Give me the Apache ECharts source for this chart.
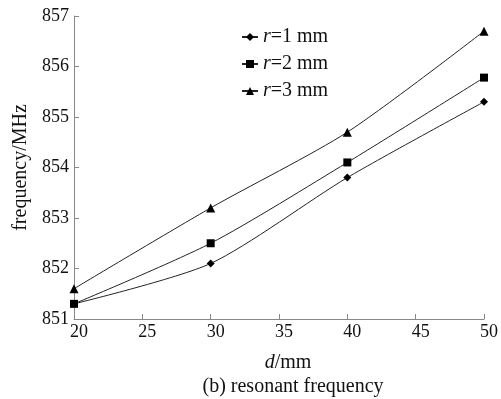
<!DOCTYPE html>
<html><head><meta charset="utf-8">
<script src="https://cdn.jsdelivr.net/npm/echarts@6/dist/echarts.min.js"></script>
<style>html,body{margin:0;padding:0;background:#fff}#c{width:501px;height:399px}</style>
</head><body><div id="c"></div>
<script>
var dValues = [20, 30, 40, 50];
var r1 = [851.3, 852.1, 853.8, 855.3];
var r2 = [851.3, 852.5, 854.1, 855.78];
var r3 = [851.6, 853.2, 854.7, 856.7];
var seriesNames = ['r=1 mm', 'r=2 mm', 'r=3 mm'];
var xTicks = [20, 25, 30, 35, 40, 45, 50];
var yTicks = [851, 852, 853, 854, 855, 856, 857];

var font = 'Liberation Serif';
function pairs(vals){ return dValues.map(function(d,i){return [d, vals[i]];}); }
var symbols = ['diamond','rect','triangle'];
var sizes = [8, 8, 9];
var datas = [r1, r2, r3];
var series = datas.map(function(v,i){
  return {
    name: seriesNames[i], type: 'line', smooth: 0.25,
    data: pairs(v), symbol: symbols[i], symbolSize: sizes[i],
    lineStyle: {color: '#222', width: 1},
    itemStyle: {color: '#000'}
  };
});
var chart = echarts.init(document.getElementById('c'));
chart.setOption({
  animation: false,
  grid: {left: 74, right: 15, top: 16, bottom: 80},
  legend: {
    orient: 'vertical', left: 236, top: 22, itemGap: 7,
    itemWidth: 16, itemHeight: 10,
    data: seriesNames,
    formatter: function(n){ return '{i|r}' + n.slice(1); },
    textStyle: {fontFamily: font, fontSize: 20, color: '#111',
      rich: {i: {fontStyle: 'italic', fontFamily: font, fontSize: 20, color: '#111'}}}
  },
  xAxis: {
    type: 'value', min: 20, max: 50, interval: 5,
    axisLine: {lineStyle: {color: '#888'}},
    axisTick: {inside: true, length: 5, lineStyle: {color: '#888'}},
    axisLabel: {fontFamily: font, fontSize: 18, color: '#111', margin: 4, padding: [0,0,0,10]},
    splitLine: {show: false},
    name: '{i|d}/mm', nameLocation: 'middle', nameGap: 34,
    nameTextStyle: {fontFamily: font, fontSize: 20, color: '#111', padding: [0,0,0,18],
      rich: {i: {fontStyle: 'italic', fontFamily: font, fontSize: 20, color: '#111'}}}
  },
  yAxis: {
    type: 'value', min: 851, max: 857, interval: 1,
    axisLine: {show: true, lineStyle: {color: '#888'}},
    axisTick: {show: true, inside: true, length: 5, lineStyle: {color: '#888'}},
    axisLabel: {fontFamily: font, fontSize: 18, color: '#111', margin: 5},
    splitLine: {show: false},
    name: 'frequency/MHz', nameLocation: 'middle', nameGap: 38,
    nameTextStyle: {fontFamily: font, fontSize: 20, color: '#111'}
  },
  graphic: [{
    type: 'text', x: 293, y: 387,
    style: {text: '(b) resonant frequency', font: '20px "Liberation Serif"', fill: '#111',
      textAlign: 'center', textVerticalAlign: 'middle'}
  }],
  series: series
});
</script></body></html>
